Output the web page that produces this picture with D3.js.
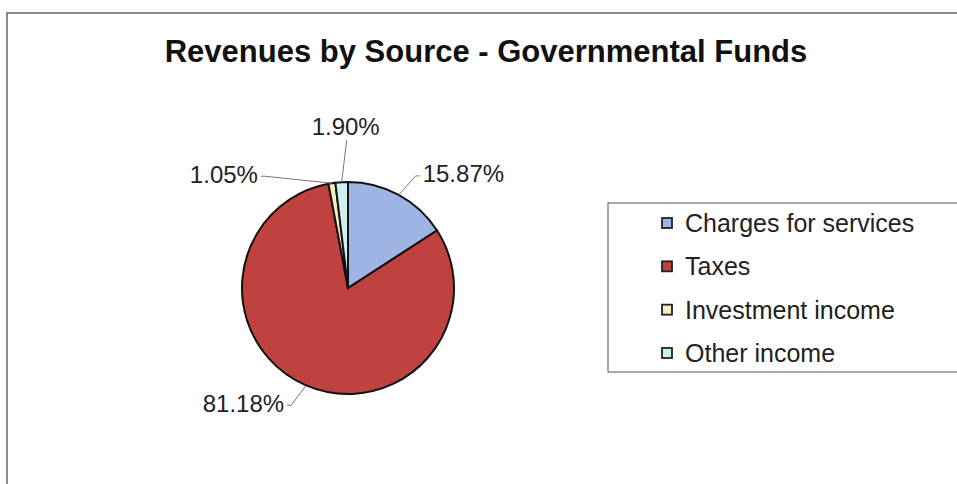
<!doctype html>
<html>
  <head>
    <meta charset="utf-8" />
    <title>Revenues by Source - Governmental Funds</title>
    <style>
      body { margin: 0; background: #fff; }
      svg { display: block; font-family: "Liberation Sans", Arial, sans-serif; }
      .frame { fill: #fff; stroke: #666; stroke-width: 1.5px; }
      .slice { stroke: #111; stroke-width: 2px; }
      .leader { fill: none; stroke: #777; stroke-width: 1px; }
      .pct { font-size: 24px; fill: #222; }
      .legend-box { fill: #fff; stroke: #555; stroke-width: 1px; }
      .legend text { font-size: 25px; fill: #222; }
      .swatch { stroke: #222; stroke-width: 1.8px; }
    </style>
  </head>
  <body>
    <div id="chart"></div>
    <script src="https://cdn.jsdelivr.net/npm/d3@7"></script>
    <script>
      var categories = ["Charges for services", "Taxes", "Investment income", "Other income"];
      var shares = [15.87, 81.18, 1.05, 1.90];
      var colors = ["#9db4e4", "#c0423f", "#f8edc2", "#cdeff0"];

      // where each leader line ends, relative to the slice's outer edge
      var labelNudge = [[17, -19], [-15, 20], [-67, -7], [5, -42]];

      var width = 957, height = 484;
      var cx = 348, cy = 288, radius = 106;

      var svg = d3.select("#chart").append("svg")
                  .attr("width", width)
                  .attr("height", height);

      svg.append("rect")
         .attr("class", "frame")
         .attr("x", 7).attr("y", 13)
         .attr("width", width + 20).attr("height", height + 20);

      svg.append("text")
         .attr("x", 486).attr("y", 62)
         .attr("text-anchor", "middle")
         .style("font-size", "31px")
         .style("font-weight", "bold")
         .style("fill", "#111")
         .text("Revenues by Source - Governmental Funds");

      var data = categories.map(function(c, i) {
        return {name: c, value: shares[i], color: colors[i], nudge: labelNudge[i]};
      });

      var pie = d3.pie()
                  .sort(null)
                  .value(function(d) { return d.value; });

      var arc = d3.arc().innerRadius(0).outerRadius(radius);

      var g = svg.append("g")
                 .attr("transform", "translate(" + cx + "," + cy + ")");

      var arcs = pie(data);

      g.selectAll(".slice")
       .data(arcs)
       .enter().append("path")
       .attr("class", "slice")
       .attr("fill", function(d) { return d.data.color; })
       .attr("d", arc);

      arcs.forEach(function(d) {
        var mid = (d.startAngle + d.endAngle) / 2;
        var p = [Math.sin(mid) * radius, -Math.cos(mid) * radius];
        var e = [p[0] + d.data.nudge[0], p[1] + d.data.nudge[1]];
        var label = d3.format(".2f")(d.data.value) + "%";
        var above = Math.abs(d.data.nudge[0]) < 10;
        var dir = d.data.nudge[0] > 0 ? 1 : -1;

        var pts = [p, e];
        if (!above) pts.push([e[0] + dir * 4, e[1]]);
        g.append("path")
         .attr("class", "leader")
         .attr("d", d3.line()(pts));

        var t = g.append("text").attr("class", "pct").text(label);
        if (above) {
          t.attr("x", e[0] - 1).attr("y", e[1] - 5).attr("text-anchor", "middle");
        } else {
          t.attr("x", e[0] + dir * 7).attr("y", e[1] - 2)
           .attr("dominant-baseline", "central")
           .attr("text-anchor", dir > 0 ? "start" : "end");
        }
      });

      // legend
      var legend = svg.append("g").attr("class", "legend");
      legend.append("rect")
            .attr("class", "legend-box")
            .attr("x", 608).attr("y", 203)
            .attr("width", 400).attr("height", 169);

      var rowY = d3.scalePoint()
                   .domain(categories)
                   .range([223, 353]);

      var rows = legend.selectAll(".row")
                       .data(data)
                       .enter().append("g")
                       .attr("class", "row")
                       .attr("transform", function(d) {
                         return "translate(662," + rowY(d.name) + ")"; });

      rows.append("rect")
          .attr("class", "swatch")
          .attr("x", 0).attr("y", -5)
          .attr("width", 10).attr("height", 10)
          .attr("fill", function(d) { return d.color; });

      rows.append("text")
          .attr("x", 23).attr("y", 0)
          .attr("dominant-baseline", "central")
          .text(function(d) { return d.name; });
    </script>
  </body>
</html>
